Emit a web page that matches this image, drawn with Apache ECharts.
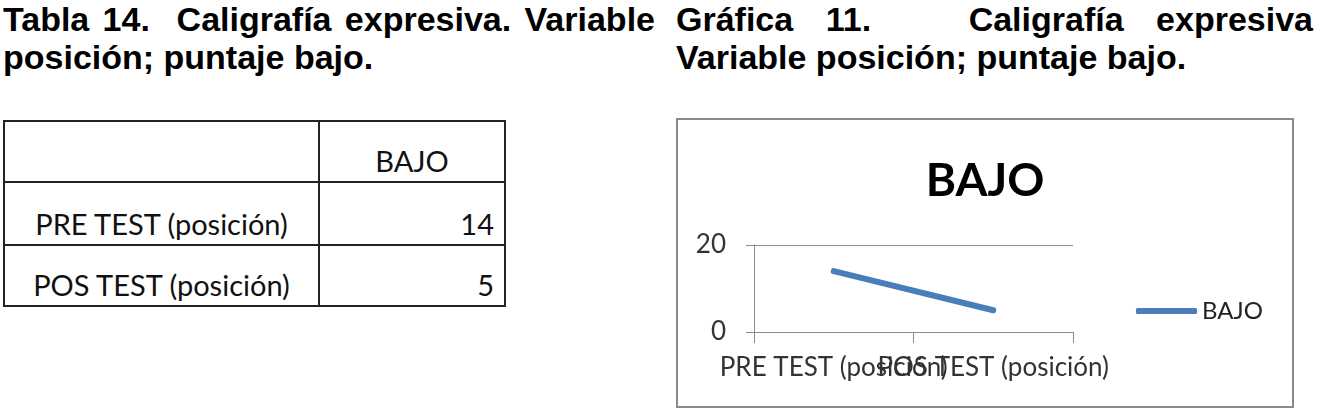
<!DOCTYPE html>
<html>
<head>
<meta charset="utf-8">
<script src="https://cdn.jsdelivr.net/npm/echarts@6/dist/echarts.min.js"></script>
<style>
  html, body { margin: 0; padding: 0; background: #fff; }
  body { width: 1318px; height: 413px; position: relative; overflow: hidden; }
  .cap {
    position: absolute;
    font-family: "Liberation Sans", Arial, sans-serif;
    font-weight: bold;
    font-size: 34px;
    line-height: 38px;
    color: #000;
    white-space: nowrap;
  }
  .cap .l1 { text-align: justify; text-align-last: justify; }
  #tbl {
    position: absolute;
    left: 3px;
    top: 120px;
    border-collapse: collapse;
    table-layout: fixed;
    font-family: Lato, "Open Sans", sans-serif;
    font-size: 29px;
    line-height: 29px;
    color: #111;
  }
  #tbl td {
    border: 2px solid #222;
    padding: 0 10px 6px 10px;
    vertical-align: bottom;
    white-space: nowrap;
  }
  #chart {
    position: absolute;
    left: 676px;
    top: 118px;
    width: 614px;
    height: 286px;
    border: 2px solid #8a8a8a;
  }
</style>
</head>
<body>
<div class="cap" style="left:3px; top:0px; width:652px;">
  <div class="l1">Tabla 14.&nbsp; Caligrafía expresiva. Variable</div>
  <div>posición; puntaje bajo.</div>
</div>
<div class="cap" style="left:676px; top:0px; width:637px;">
  <div class="l1">Gráfica 11.&nbsp;&nbsp; Caligrafía expresiva</div>
  <div>Variable posición; puntaje bajo.</div>
</div>

<table id="tbl"></table>
<div id="chart"></div>

<script>
// datos
var seriesName = 'BAJO';
var categories = ['PRE TEST (posición)', 'POS TEST (posición)'];
var bajo = [14, 5];
var yMin = 0;
var yMax = 20;
var yInterval = 20;

// tabla
var tbl = document.getElementById('tbl');
var html = '<colgroup><col style="width:315px"><col style="width:186px"></colgroup>';
html += '<tr style="height:61px"><td></td><td style="text-align:center">' + seriesName + '</td></tr>';
for (var i = 0; i < categories.length; i++) {
  var h = i === 0 ? 63 : 61;
  html += '<tr style="height:' + h + 'px"><td style="text-align:center">' + categories[i] +
    '</td><td style="text-align:right">' + bajo[i] + '</td></tr>';
}
tbl.innerHTML = html;

// grafica
var myChart = echarts.init(document.getElementById('chart'));
var option = {
  animation: false,
  textStyle: { fontFamily: 'Lato' },
  title: {
    text: seriesName,
    left: 'center',
    top: 33,
    textStyle: { fontFamily: 'Lato', fontWeight: 'bold', fontSize: 46, color: '#000' }
  },
  legend: {
    left: 453,
    top: 174,
    icon: 'roundRect',
    itemWidth: 61,
    itemHeight: 6,
    textStyle: { fontSize: 24, color: '#222' },
    data: [seriesName]
  },
  grid: { left: 76, right: 219, top: 125, bottom: 74 },
  xAxis: {
    type: 'category',
    data: categories,
    boundaryGap: true,
    axisLine: { lineStyle: { color: '#8c8c8c', width: 1 } },
    axisTick: { show: true, length: 11, lineStyle: { color: '#8c8c8c' } },
    axisLabel: { interval: 0, margin: 23, fontSize: 26, color: '#333' }
  },
  yAxis: {
    type: 'value',
    min: yMin,
    max: yMax,
    interval: yInterval,
    axisLine: { show: true, lineStyle: { color: '#8c8c8c', width: 1 } },
    axisTick: { show: true, length: 8, lineStyle: { color: '#8c8c8c' } },
    axisLabel: { margin: 28, fontSize: 26, color: '#333' },
    splitLine: { lineStyle: { color: '#8c8c8c', width: 1 } }
  },
  series: [
    {
      name: seriesName,
      type: 'line',
      data: bajo,
      symbol: 'none',
      color: '#4a7ebb',
      lineStyle: { width: 6, color: '#4a7ebb', cap: 'round' }
    }
  ]
};
myChart.setOption(option);
</script>
</body>
</html>
